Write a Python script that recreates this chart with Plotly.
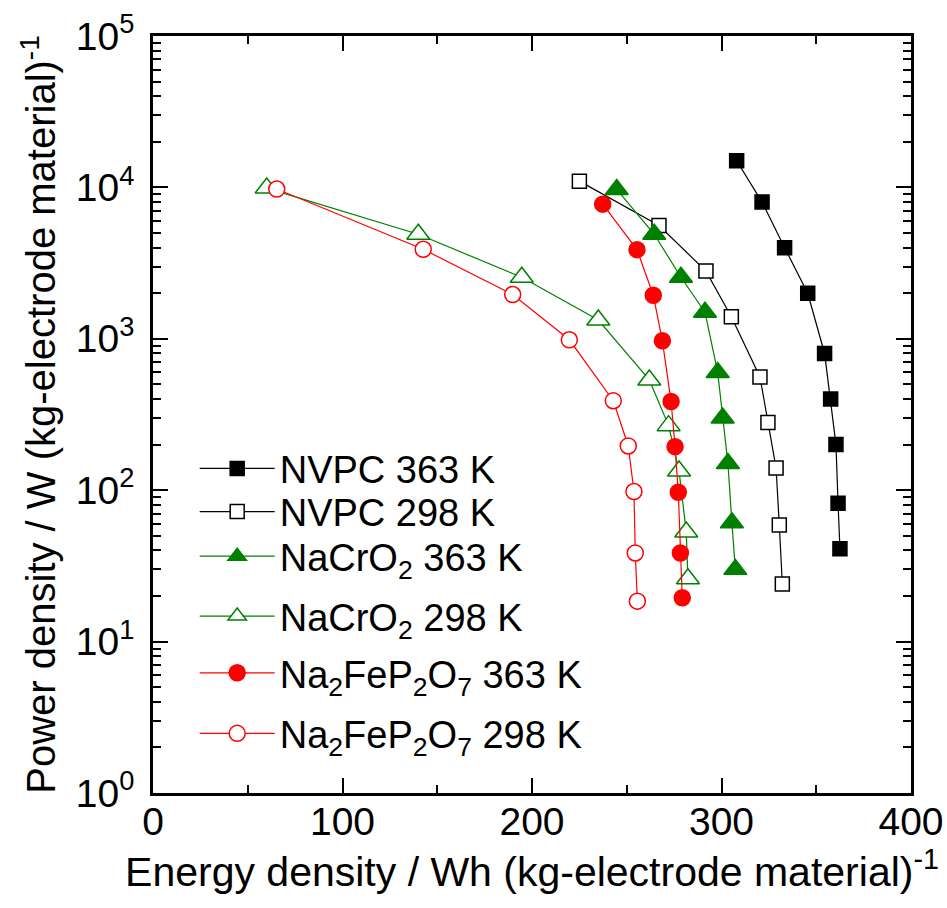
import plotly.graph_objects as go

# Energy density (Wh/kg) and power density (W/kg) for each cell / temperature
nvpc_363_energy = [308.0, 321.4, 333.3, 345.5, 354.4, 357.6, 360.4, 361.5, 362.5]
nvpc_363_power = [15000, 8000, 4000, 2000, 800, 400, 200, 82, 41]

nvpc_298_energy = [225.0, 267.0, 291.8, 305.2, 320.3, 324.5, 328.8, 330.5, 332.1]
nvpc_298_power = [11000, 5600, 2800, 1400, 560, 280, 140, 59, 24]

nacro_363_energy = [244.7, 264.5, 278.6, 291.3, 298.0, 300.6, 303.4, 305.5, 307.3]
nacro_363_power = [9700, 4900, 2550, 1500, 600, 300, 150, 61, 30]

nacro_298_energy = [60.0, 140.0, 194.6, 235.0, 261.9, 272.1, 277.6, 281.4, 282.3]
nacro_298_power = [9900, 4900, 2550, 1330, 535, 267, 134, 53, 26]

nfpo_363_energy = [237.3, 255.4, 264.0, 268.8, 273.4, 275.5, 277.2, 278.3, 279.3]
nfpo_363_power = [7750, 3880, 1940, 970, 385, 194, 97, 38.5, 19.5]

nfpo_298_energy = [65.3, 142.6, 189.8, 219.7, 242.9, 250.8, 253.8, 254.5, 255.6]
nfpo_298_power = [9750, 3900, 1960, 985, 390, 196, 98, 38.5, 18.5]

series_names = [
    "NVPC 363 K",
    "NVPC 298 K",
    "NaCrO<sub>2</sub> 363 K",
    "NaCrO<sub>2</sub> 298 K",
    "Na<sub>2</sub>FeP<sub>2</sub>O<sub>7</sub> 363 K",
    "Na<sub>2</sub>FeP<sub>2</sub>O<sub>7</sub> 298 K",
]

x_tick_vals = [0, 100, 200, 300, 400]
x_tick_text = ["0", "100", "200", "300", "400"]
y_tick_vals = [1, 10, 100, 1000, 10000, 100000]
y_tick_text = ["10<sup>0</sup>", "10<sup>1</sup>", "10<sup>2</sup>",
               "10<sup>3</sup>", "10<sup>4</sup>", "10<sup>5</sup>"]

BLACK = "#000000"
GREEN = "#008000"
RED = "#ff0000"

series = [
    (nvpc_363_energy, nvpc_363_power, BLACK, "square", True, 14),
    (nvpc_298_energy, nvpc_298_power, BLACK, "square", False, 14),
    (nacro_363_energy, nacro_363_power, GREEN, "triangle-up", True, 20),
    (nacro_298_energy, nacro_298_power, GREEN, "triangle-up", False, 20),
    (nfpo_363_energy, nfpo_363_power, RED, "circle", True, 16),
    (nfpo_298_energy, nfpo_298_power, RED, "circle", False, 16),
]

FONT = "Liberation Sans, Arial, sans-serif"

# one legend box per entry so the rows can be spaced individually
legend_tops = [0.470, 0.413, 0.354, 0.275, 0.200, 0.120]
legend_ids = ["legend"] + [f"legend{i}" for i in range(2, 7)]

fig = go.Figure()
for name, lid, (xs, ys, color, symbol, filled, size) in zip(series_names, legend_ids, series):
    fig.add_trace(go.Scatter(
        x=xs, y=ys, name=name, mode="lines+markers", legend=lid,
        line=dict(color=color, width=1.2),
        marker=dict(symbol=symbol, size=size,
                    color=color if filled else "white",
                    line=dict(color=color, width=1.5)),
    ))

legend_layout = {}
for lid, top in zip(legend_ids, legend_tops):
    legend_layout[lid] = dict(
        x=0.055, y=top, xanchor="left", yanchor="top",
        bgcolor="rgba(0,0,0,0)", borderwidth=0,
        font=dict(size=38), itemwidth=75,
    )

fig.update_layout(
    width=947, height=908,
    margin=dict(l=153, r=36, t=36, b=115, autoexpand=False),
    paper_bgcolor="white", plot_bgcolor="white",
    font=dict(family=FONT, color="black", size=37),
    showlegend=True,
    **legend_layout,
)

fig.update_xaxes(
    range=[0, 400], tickvals=x_tick_vals, ticktext=x_tick_text,
    ticks="inside", ticklen=15, tickwidth=2, tickcolor="black",
    minor=dict(dtick=50, ticks="inside", ticklen=8, tickwidth=2, tickcolor="black"),
    showline=True, linewidth=2.5, linecolor="black", mirror="allticks",
    showgrid=False, zeroline=False, automargin=False,
    tickfont=dict(size=39), ticklabelstandoff=-8,
    title=dict(text="Energy density / Wh (kg-electrode material)<sup>-1</sup>",
               font=dict(size=41), standoff=0),
)

fig.update_yaxes(
    type="log", range=[0, 5], tickvals=y_tick_vals, ticktext=y_tick_text,
    ticks="inside", ticklen=15, tickwidth=2, tickcolor="black",
    minor=dict(dtick="D1", ticks="inside", ticklen=8, tickwidth=2, tickcolor="black"),
    showline=True, linewidth=2.5, linecolor="black", mirror="allticks",
    showgrid=False, zeroline=False, automargin=False,
    tickfont=dict(size=39), ticklabelstandoff=8,
    title=dict(text="Power density / W (kg-electrode material)<sup>-1</sup>",
               font=dict(size=40), standoff=8),
)

fig.write_html("out.html")
